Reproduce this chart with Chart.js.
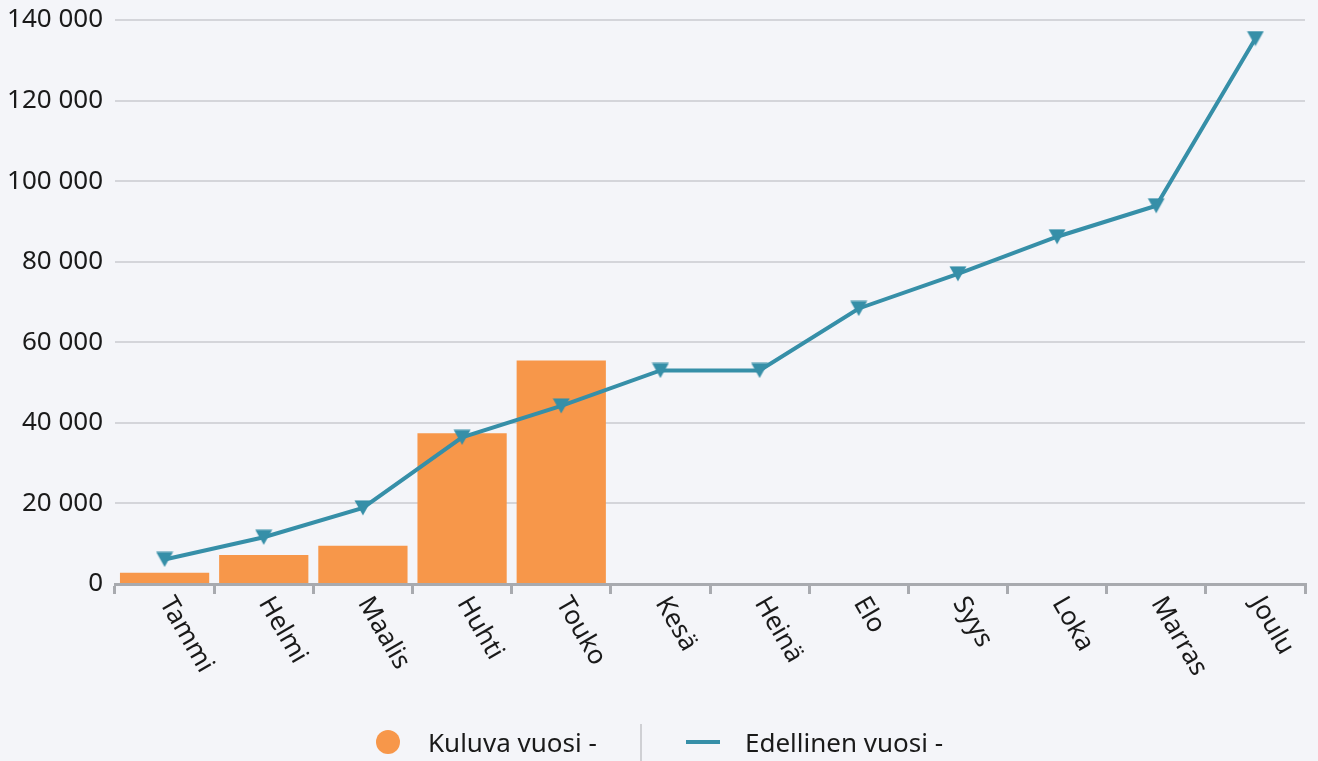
<!DOCTYPE html>
<html>
<head>
<meta charset="utf-8">
<script src="https://cdn.jsdelivr.net/npm/chart.js@4/dist/chart.umd.min.js"></script>
<style>
  html, body { margin: 0; padding: 0; background: #f4f5f9; }
  #wrap { position: relative; width: 1318px; height: 761px; font-family: "Noto Sans", "Open Sans", sans-serif; }
  #legend { position: absolute; left: 0; top: 0; width: 1318px; height: 761px; pointer-events: none; }
  .dot { position: absolute; left: 376px; top: 730px; width: 24px; height: 24px; border-radius: 50%; background: #f7974a; }
  .lbl { position: absolute; top: 724px; font-size: 26px; color: #1a1a1a; line-height: 36px; white-space: nowrap; }
  .sep { position: absolute; left: 640px; top: 724px; width: 2px; height: 37px; background: #cfd0d4; }
  .ln { position: absolute; left: 686px; top: 740px; width: 34px; height: 4px; background: #368fa8; }
</style>
</head>
<body>
<div id="wrap">
  <canvas id="chart" width="1318" height="761"></canvas>
  <div id="legend">
    <div class="dot"></div>
    <div class="lbl" style="left:428px">Kuluva vuosi -</div>
    <div class="sep"></div>
    <div class="ln"></div>
    <div class="lbl" style="left:745px">Edellinen vuosi -</div>
  </div>
</div>
<script>
// months
var kuukaudet = ["Tammi", "Helmi", "Maalis", "Huhti", "Touko", "Kesä", "Heinä", "Elo", "Syys", "Loka", "Marras", "Joulu"];
// current year, only first five months so far
var kuluvaVuosi = [2800, 7200, 9500, 37400, 55500];
// previous year
var edellinenVuosi = [6100, 11600, 18900, 36400, 44200, 53000, 53000, 68400, 77000, 86200, 93900, 135400];
var yTicks = [0, 20000, 40000, 60000, 80000, 100000, 120000, 140000];

var orange = "#f7974a";
var teal = "#368fa8";
var fontFam = "'Noto Sans', 'Open Sans', sans-serif";

// down-pointing triangle marker, centered on the point
var tri = document.createElement("canvas");
tri.width = 18; tri.height = 16;
var tctx = tri.getContext("2d");
tctx.fillStyle = teal;
tctx.beginPath();
tctx.moveTo(0.5, 0.5);
tctx.lineTo(17.5, 0.5);
tctx.lineTo(9, 15.5);
tctx.closePath();
tctx.fill();

function fmt(v) {
  return String(v).replace(/\B(?=(\d{3})+(?!\d))/g, " ");
}

// x labels rotated clockwise, reading downwards
var slantLabels = {
  id: "slantLabels",
  afterDraw: function (chart) {
    var xs = chart.scales.x;
    var ctx = chart.ctx;
    ctx.save();
    ctx.font = "26px " + fontFam;
    ctx.fillStyle = "#1a1a1a";
    ctx.textAlign = "left";
    ctx.textBaseline = "middle";
    chart.data.labels.forEach(function (lab, i) {
      var x = xs.getPixelForValue(i);
      ctx.save();
      ctx.translate(x + 1, xs.top + 15);
      ctx.rotate(Math.PI / 3);
      ctx.fillText(lab, 0, 0);
      ctx.restore();
    });
    ctx.restore();
  }
};

var chart = new Chart(document.getElementById("chart"), {
  type: "bar",
  data: {
    labels: kuukaudet,
    datasets: [
      {
        type: "line",
        label: "Edellinen vuosi -",
        data: edellinenVuosi,
        borderColor: teal,
        backgroundColor: teal,
        borderWidth: 4,
        pointStyle: tri,
        pointRadius: 8,
        tension: 0,
        order: 0
      },
      {
        type: "bar",
        label: "Kuluva vuosi -",
        data: kuluvaVuosi,
        backgroundColor: orange,
        barPercentage: 0.9,
        categoryPercentage: 1.0,
        order: 1
      }
    ]
  },
  options: {
    responsive: false,
    animation: false,
    devicePixelRatio: 1,
    layout: { padding: { top: 20, right: 13, left: 0, bottom: 0 } },
    plugins: {
      legend: { display: false },
      tooltip: { enabled: false }
    },
    scales: {
      x: {
        grid: {
          offset: true,
          drawOnChartArea: false,
          drawTicks: true,
          tickLength: 10,
          color: "#a8aaaf",
          lineWidth: 3
        },
        border: { display: true, color: "#a8aaaf", width: 3 },
        ticks: { display: false },
        afterFit: function (scale) { scale.height = 177; }
      },
      y: {
        min: 0,
        max: 140000,
        afterBuildTicks: function (scale) {
          scale.ticks = yTicks.map(function (v) { return { value: v }; });
        },
        grid: { color: "#d4d5da", lineWidth: 2, drawTicks: false },
        border: { display: false },
        ticks: {
          padding: 12,
          color: "#1a1a1a",
          font: { family: fontFam, size: 26 },
          callback: function (v) { return fmt(v); }
        },
        afterFit: function (scale) {
          scale.width = 115;
          scale.paddingTop = 0;
          scale.paddingBottom = 0;
        }
      }
    }
  },
  plugins: [slantLabels]
});
</script>
</body>
</html>
